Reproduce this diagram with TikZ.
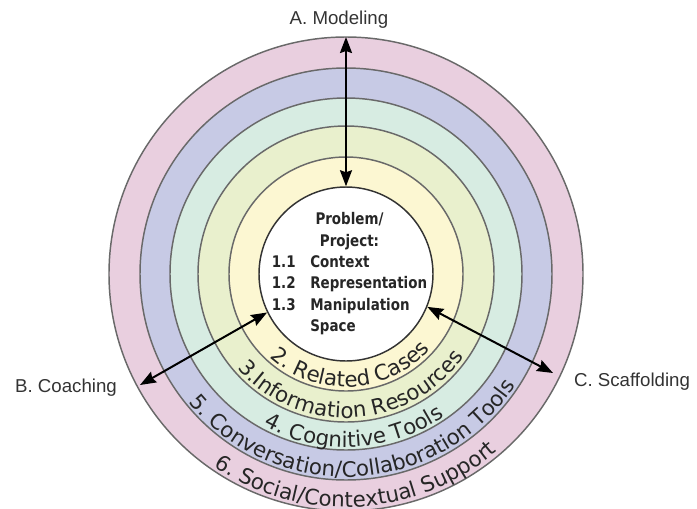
\documentclass[tikz,border=0pt]{standalone}
\usepackage{fontspec}
\usetikzlibrary{arrows.meta,decorations.text}
\newfontfamily\ringfont{DejaVu Sans}
\newfontfamily\corefont{DejaVu Sans Bold}[FakeStretch=0.84]
\newfontfamily\labelfont{Liberation Sans}
\definecolor{socialpink}{RGB}{233,207,223}
\definecolor{convblue}{RGB}{199,202,229}
\definecolor{cogmint}{RGB}{215,236,226}
\definecolor{infogreen}{RGB}{233,240,205}
\definecolor{caseyellow}{RGB}{252,247,210}
\definecolor{ringline}{RGB}{105,105,105}

\tikzset{every picture/.style={line width=0.75pt}}

\begin{document}
\begin{tikzpicture}[x=0.75pt,y=0.75pt,yscale=-1,xscale=1,
  ring/.style={draw=ringline,line width=1.1pt},
  ringtext/.style={decorate,decoration={text along path,text align=center,text color=black!85}},
  both/.style={{Stealth[length=12pt,width=9pt,inset=1.5pt]}-{Stealth[length=12pt,width=9pt,inset=1.5pt]},line width=1.5pt},
  tag/.style={font=\labelfont\fontsize{14}{16}\selectfont,text=black!80,inner sep=0pt}]
\useasboundingbox (0,0) rectangle (697,508);
\coordinate (ctr) at (346,274);

%Rings, outermost first
\foreach \r/\c in {237/socialpink,206/convblue,176/cogmint,148/infogreen,117/caseyellow}
  \draw[ring,fill=\c] (ctr) circle (\r);

%Centre: problem space
\node[circle,draw=black!80,line width=1.1pt,fill=white,minimum size=130.5pt,inner sep=0pt] (core) at (ctr) {};
\node[font=\corefont\fontsize{12}{16}\selectfont,text=black!85,inner sep=0pt] (task) at (349.5,274) {%
  \begin{tabular}{@{}l@{\hspace{11pt}}l@{}}
  \multicolumn{2}{@{}c@{}}{Problem/}\\
  \multicolumn{2}{@{}c@{}}{Project:}\\
  1.1 & Context\\
  1.2 & Representation\\
  1.3 & Manipulation\\
      & Space
  \end{tabular}};

%Ring labels along the arcs
\begin{scope}[shift={(346,274)},yscale=-1]
\path[ringtext,decoration={text={|\ringfont\fontsize{16}{18}\selectfont|2. Related Cases}}] (193:113) arc (193:353:113);
\path[ringtext,decoration={text={|\ringfont\fontsize{16}{18}\selectfont|3.Information Resources}}] (193:144) arc (193:353:144);
\path[ringtext,decoration={text={|\ringfont\fontsize{16}{18}\selectfont|4. Cognitive Tools}}] (193:173) arc (193:353:173);
\path[ringtext,decoration={text={|\ringfont\fontsize{16}{18}\selectfont|5. Conversation/Collaboration Tools}}] (193:203) arc (193:353:203);
\path[ringtext,decoration={text={|\ringfont\fontsize{16}{18}\selectfont|6. Social/Contextual Support}}] (193:233) arc (193:353:233);
\end{scope}

%Arrows
\coordinate (modtip) at (346,37);
\coordinate (coachtip) at (140,385);
\coordinate (scaftip) at (553,373);
\draw[both] (core.north) -- (modtip);
\draw[both] (core.206) -- (coachtip);
\draw[both] (core.-22) -- (scaftip);

% Text Node
\node[tag] (modeling) at (339,20) {A. Modeling};
% Text Node
\node[tag] (coaching) at (66,388) {B. Coaching};
% Text Node
\node[tag] (scaffolding) at (632,382) {C. Scaffolding};

\end{tikzpicture}
\end{document}
